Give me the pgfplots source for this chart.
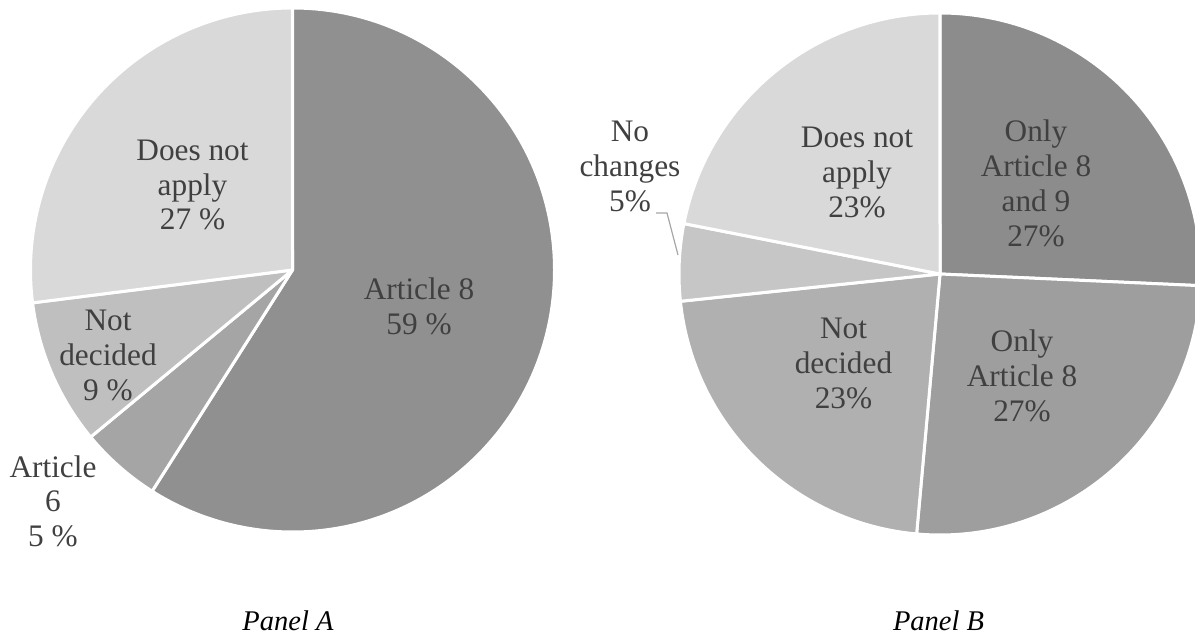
\documentclass[border=0pt]{standalone}
\usepackage{pgfplots}
\usepackage{pgfplotstable}
\pgfplotsset{compat=1.18}
\usepackage{fontspec}
\setmainfont{Liberation Serif}

\definecolor{labc}{HTML}{404040}
\definecolor{leadc}{HTML}{A6A6A6}
% Panel A slice colours
\definecolor{A0}{HTML}{909090}
\definecolor{A1}{HTML}{A5A5A5}
\definecolor{A2}{HTML}{BFBFBF}
\definecolor{A3}{HTML}{D9D9D9}
% Panel B slice colours
\definecolor{B0}{HTML}{8C8C8C}
\definecolor{B1}{HTML}{9E9E9E}
\definecolor{B2}{HTML}{B0B0B0}
\definecolor{B3}{HTML}{C6C6C6}
\definecolor{B4}{HTML}{D9D9D9}

\pgfplotstableread{
label value
Article8 59
Article6 5
NotDecided 9
DoesNotApply 27
}\tableA

\pgfplotstableread{
label value
OnlyArt8and9 27
OnlyArt8 27
NotDecided 23
NoChanges 5
DoesNotApply 23
}\tableB

% wedges, clockwise from 12 o'clock
\newcommand{\piewedges}[3]{%
  \pgfplotstablegetrowsof{#1}%
  \pgfmathtruncatemacro\nrows{\pgfplotsretval-1}%
  \def\pietotal{0}%
  \pgfplotsforeachungrouped \i in {0,...,\nrows}{%
    \pgfplotstablegetelem{\i}{value}\of#1%
    \pgfmathsetmacro\pietotal{\pietotal+\pgfplotsretval}%
  }%
  \def\startang{90}%
  \pgfplotsforeachungrouped \i in {0,...,\nrows}{%
    \pgfplotstablegetelem{\i}{value}\of#1%
    \pgfmathsetmacro\endang{\startang-\pgfplotsretval/\pietotal*360}%
    \edef\cmd{\noexpand\fill[fill=#2\i,draw=white,line width=1.5pt,line join=round]
      (axis cs:0,0) -- (axis cs:{cos(\startang)},{sin(\startang)})
      arc[start angle=\startang,end angle=\endang,radius=#3] -- cycle;}%
    \cmd
    \let\startang\endang
  }%
}

\newcommand\lblfont{\fontsize{15.65pt}{17.35pt}\selectfont}
\newcommand\ttlfont{\fontsize{14.25pt}{17pt}\selectfont\itshape}
% label: x (px), first baseline y (px), lines
\newcommand{\lbl}[3]{%
  \foreach \t [count=\k from 0] in {#3}{%
    \node[font=\lblfont,text=labc,anchor=base,inner sep=0pt]
      at ({#1*0.5pt},{-(#2+34.7*\k)*0.5pt}) {\t};
  }%
}

\begin{document}
\begin{tikzpicture}
\useasboundingbox (0,0) rectangle (597.5pt,-318pt);

\begin{axis}[hide axis, x=131pt, y=131pt,
  xmin=-1, xmax=1, ymin=-1, ymax=1,
  anchor=origin, at={(146.25pt,-135pt)}, clip=false]
  \piewedges{\tableA}{A}{131pt}
\end{axis}

\begin{axis}[hide axis, x=130.5pt, y=130.5pt,
  xmin=-1, xmax=1, ymin=-1, ymax=1,
  anchor=origin, at={(470pt,-137pt)}, clip=false]
  \piewedges{\tableB}{B}{130.5pt}
\end{axis}

% Panel A labels
\lbl{419}{300}{Article 8,59 \%}
\lbl{192.5}{160.5}{Does not,apply,27 \%}
\lbl{108}{331}{Not,decided,9 \%}
\lbl{53}{477}{Article,6,5 \%}

% Panel B labels
\lbl{1036}{142}{Only,Article 8,and 9,27\%}
\lbl{1022}{352}{Only,Article 8,27\%}
\lbl{843.5}{339}{Not,decided,23\%}
\lbl{630}{142}{No,changes,5\%}
\lbl{857}{148}{Does not,apply,23\%}

% leader line for "No changes"
\draw[leadc, line width=0.6pt] (328pt,-106.5pt) -- (333.5pt,-106.5pt) -- (339pt,-127.5pt);

% panel titles
\node[font=\ttlfont,anchor=base,inner sep=0pt] at (144pt,-315pt) {Panel A};
\node[font=\ttlfont,anchor=base,inner sep=0pt] at (469.25pt,-315pt) {Panel B};
\end{tikzpicture}
\end{document}
